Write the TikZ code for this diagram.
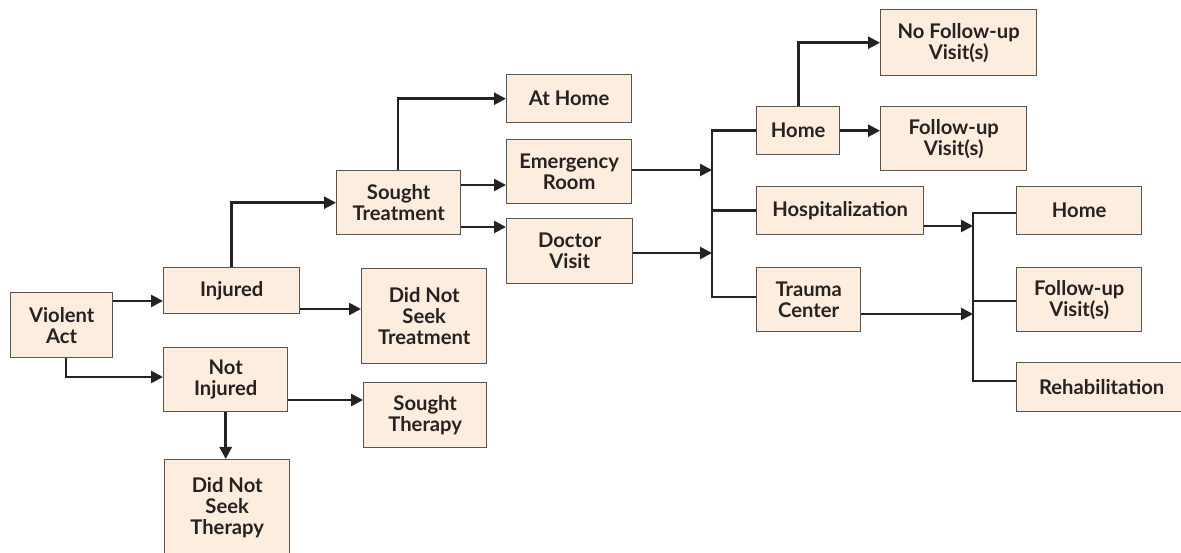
\documentclass[tikz,border=0pt]{standalone}
\usepackage{fontspec}
\setmainfont{Lato}
\usetikzlibrary{arrows.meta}
\definecolor{peach}{HTML}{FCEDDF}
\definecolor{edge}{HTML}{5A5450}
\definecolor{ink}{HTML}{262222}

\begin{document}
\begin{tikzpicture}[x=0.02cm,y=-0.02cm,
  box/.style={draw=edge,line width=0.8pt,fill=peach,anchor=north west,align=center,inner sep=0pt,
    text=ink,font=\fontsize{11.5}{12}\selectfont\bfseries},
  link/.style={draw=ink,line width=1.5pt},
  arr/.style={link,-{Triangle[length=2.4mm,width=2.4mm]}}]
  \useasboundingbox (0,0) rectangle (1181,553);
  \node[box,minimum width=2.04cm,minimum height=1.30cm] (act) at (10,292) {Violent\\Act};
  \node[box,minimum width=2.72cm,minimum height=0.92cm] (inj) at (163,267) {Injured};
  \node[box,minimum width=2.48cm,minimum height=1.28cm] (notinj) at (163,347) {Not\\Injured};
  \node[box,minimum width=2.50cm,minimum height=1.92cm] (noth) at (164,459) {Did Not\\Seek\\Therapy};
  \node[box,minimum width=2.48cm,minimum height=1.28cm] (sought) at (336,170) {Sought\\Treatment};
  \node[box,minimum width=2.50cm,minimum height=1.90cm] (notreat) at (361,268) {Did Not\\Seek\\Treatment};
  \node[box,minimum width=2.46cm,minimum height=1.30cm] (ther) at (363,382) {Sought\\Therapy};
  \node[box,minimum width=2.50cm,minimum height=0.96cm] (athome) at (506,74) {At Home};
  \node[box,minimum width=2.50cm,minimum height=1.28cm] (er) at (506,139) {Emergency\\Room};
  \node[box,minimum width=2.52cm,minimum height=1.30cm] (doc) at (506,218) {Doctor\\Visit};
  \node[box,minimum width=1.66cm,minimum height=0.96cm] (home) at (756,106) {Home};
  \node[box,minimum width=3.12cm,minimum height=1.32cm] (nofol) at (880,9) {No Follow-up\\Visit(s)};
  \node[box,minimum width=2.92cm,minimum height=1.28cm] (fol) at (880,106) {Follow-up\\Visit(s)};
  \node[box,minimum width=3.34cm,minimum height=0.96cm] (hosp) at (756,186) {Hospitalization};
  \node[box,minimum width=2.08cm,minimum height=1.28cm] (trauma) at (756,267) {Trauma\\Center};
  \node[box,minimum width=2.50cm,minimum height=0.96cm] (home2) at (1016,186) {Home};
  \node[box,minimum width=2.50cm,minimum height=1.28cm] (fol2) at (1016,267) {Follow-up\\Visit(s)};
  \node[box,minimum width=3.40cm,minimum height=0.98cm] (rehab) at (1016,362) {Rehabilitation};
  \coordinate (ta) at (712,0);
  \coordinate (tb) at (973,0);

  \draw[arr] (act.east |- 0,301) -- (inj.west |- 0,301);
  \draw[arr] (act.south -| 66,0) |- (notinj.west |- 0,377);
  \draw[arr] (notinj.south) -- (notinj.south |- noth.north);
  \draw[arr] (inj.north) |- (sought.west);
  \draw[arr] (inj.east |- 0,309) -- (notreat.west |- 0,309);
  \draw[arr] (notinj.east |- 0,400) -- (ther.west |- 0,400);
  \draw[arr] (sought.north -| 398,0) |- (athome.west);
  \draw[arr] (sought.east |- 0,185) -- (er.west |- 0,185);
  \draw[arr] (sought.east |- 0,227) -- (doc.west |- 0,227);
  \draw[arr] (er.east |- 0,170) -- (ta |- 0,170);
  \draw[arr] (doc.east |- 0,253) -- (ta |- 0,253);
  \draw[link] (home.west) -| (ta |- 0,297) -- (trauma.west |- 0,297);
  \draw[link] (hosp.west) -- (ta |- hosp.west);
  \draw[arr] (home.north) |- (nofol.west);
  \draw[arr] (home.east) -- (fol.west |- home.east);
  \draw[arr] (hosp.east |- 0,226) -- (tb |- 0,226);
  \draw[arr] (trauma.east |- 0,314) -- (tb |- 0,314);
  \draw[link] (home2.west |- 0,213) -| (tb |- 0,381) -- (rehab.west |- 0,381);
  \draw[link] (fol2.west |- 0,301) -- (tb |- 0,301);
\end{tikzpicture}
\end{document}
